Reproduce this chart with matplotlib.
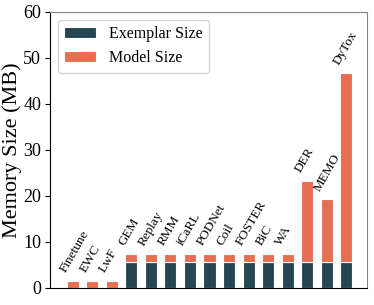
import matplotlib
matplotlib.use("Agg")
from matplotlib import pyplot as plt

methods = ["Finetune", "EWC", "LwF", "GEM", "Replay", "RMM", "iCaRL", "PODNet",
           "Coil", "FOSTER", "BiC", "WA", "DER", "MEMO", "DyTox"]
exemplar = [0, 0, 0, 5.7, 5.7, 5.7, 5.7, 5.7, 5.7, 5.7, 5.7, 5.7, 5.7, 5.7, 5.7]
model = [1.6, 1.6, 1.6, 1.7, 1.7, 1.7, 1.7, 1.7, 1.7, 1.7, 1.7, 1.7, 17.6, 13.6, 41.0]

plt.rcParams['font.family'] = ['Liberation Serif', 'DejaVu Serif']

fig = plt.figure(figsize=(3.74, 3.05), dpi=100)
ax = fig.add_axes([0.134, 0.056, 0.847, 0.905])

x = list(range(len(methods)))
ax.bar(x, exemplar, width=0.62, color="#264653", edgecolor="white", linewidth=0.8, label="Exemplar Size")
ax.bar(x, model, width=0.62, bottom=exemplar, color="#e76f51", edgecolor="white", linewidth=0.8, label="Model Size")

for i in x:
    top = exemplar[i] + model[i]
    ax.text(i - 0.22, top + 1.3, methods[i], rotation=60, ha="left", va="bottom",
            rotation_mode="anchor", fontsize=9.5)

ax.set_xlim(-1.15, 15.05)
ax.set_ylim(0, 60)
ax.set_xticks([])
ax.set_yticks([0, 10, 20, 30, 40, 50, 60])
ax.tick_params(axis="y", labelsize=13, pad=3)
ax.set_ylabel("Memory Size (MB)", fontsize=16)
ax.yaxis.set_label_coords(-0.09, 0.5)
for s in ["top", "right"]:
    ax.spines[s].set_color("#888888")
ax.legend(loc="upper left", fontsize=11.5)

plt.savefig("out.png", dpi=100)
